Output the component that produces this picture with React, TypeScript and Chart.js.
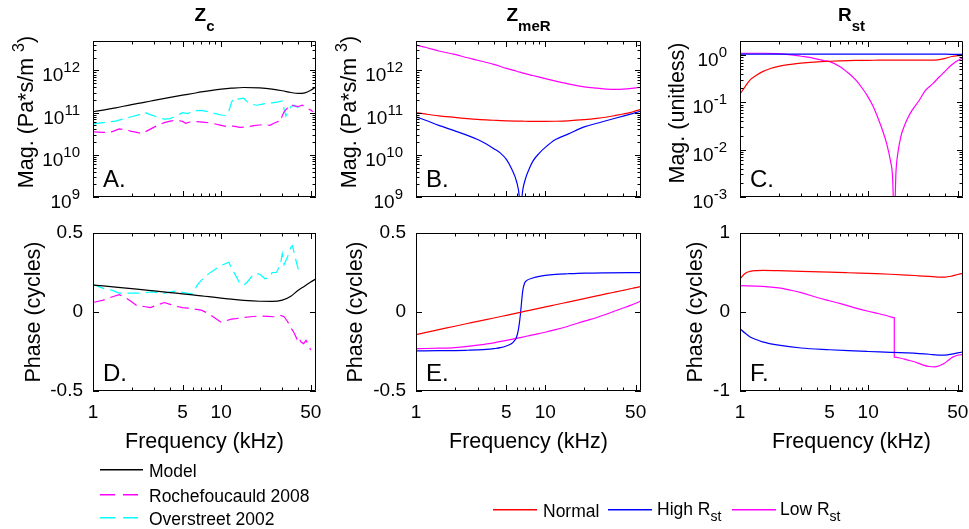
import React, { useEffect, useRef } from "react";
import { Chart, registerables } from "chart.js";

Chart.register(...registerables);

const FONT = '"Liberation Sans", Arial, Helvetica, sans-serif';

// ---------- axes ----------
const F_MIN = 1;
const F_MAX = 55;
const X_TICKS = [1, 5, 10, 50];
const X_MINOR = [2, 3, 4, 6, 7, 8, 9, 20, 30, 40];

// ---------- common frequency grid (kHz) ----------
const MODEL_F = [1, 1.2, 1.5, 2, 2.5, 3, 4, 5, 6, 7, 8, 10, 12, 15, 20, 25, 30, 35, 40, 45, 50, 55];

// ---------- Panel A: Zc magnitude ----------
const zcModelMag = [1.05e11, 1.15e11, 1.3e11, 1.55e11, 1.75e11, 1.95e11, 2.3e11, 2.6e11, 2.85e11, 3.1e11, 3.3e11, 3.6e11, 3.8e11, 3.95e11, 3.85e11, 3.6e11, 3.3e11, 3.0e11, 2.85e11, 2.95e11, 3.4e11, 4.1e11];
const rocheMagF = [1, 1.2, 1.4, 1.6, 1.8, 2, 2.2, 2.4, 2.6, 2.9, 3.2, 3.6, 4, 4.5, 5, 5.3, 5.7, 6.5, 7.5, 8.5, 10, 11, 12.5, 14, 16, 18, 20, 22, 24, 26, 28, 29, 30, 31, 33, 35, 37, 40, 43, 46, 50, 52];
const rocheMag = [3.5e10, 3.4e10, 3.5e10, 4.1e10, 3.9e10, 3.6e10, 3.4e10, 3.2e10, 3.6e10, 4.3e10, 5.0e10, 5.8e10, 6.3e10, 6.6e10, 6.2e10, 5.6e10, 6.0e10, 6.1e10, 5.9e10, 5.6e10, 5.0e10, 4.7e10, 4.8e10, 4.5e10, 4.6e10, 4.9e10, 5.1e10, 5.2e10, 5.0e10, 5.7e10, 6.2e10, 6.0e10, 8.5e10, 1.05e11, 1.3e11, 1.55e11, 1.45e11, 1.4e11, 1.5e11, 1.3e11, 1.15e11, 1.05e11];
const overMagF = [1, 1.2, 1.5, 1.75, 2, 2.3, 2.5, 2.8, 3.2, 3.6, 4, 4.5, 5, 5.5, 6, 7, 8, 9, 10, 11, 11.5, 12, 12.5, 13.5, 15, 16, 17, 19, 21, 23, 25, 28, 30, 31, 32, 33, 35, 37, 40];
const overMag = [5.4e10, 5.8e10, 6.3e10, 7.2e10, 8.0e10, 9.0e10, 1.03e11, 9.0e10, 7.8e10, 7.0e10, 7.2e10, 8.5e10, 1.0e11, 9.5e10, 1.1e11, 1.13e11, 1.05e11, 9.5e10, 8.8e10, 8.5e10, 1.1e11, 1.7e11, 2.2e11, 2.1e11, 2.2e11, 1.8e11, 1.6e11, 1.5e11, 1.6e11, 1.7e11, 1.7e11, 1.8e11, 1.9e11, 1.2e11, 8.3e10, 1.0e11, 1.4e11, 1.5e11, 1.3e11];

// ---------- Panel D: Zc phase (cycles) ----------
const zcModelPhase = [0.17, 0.165, 0.158, 0.148, 0.14, 0.134, 0.123, 0.115, 0.108, 0.102, 0.097, 0.088, 0.081, 0.074, 0.068, 0.067, 0.075, 0.1, 0.138, 0.165, 0.19, 0.21];
const rochePhaseF = [1, 1.2, 1.4, 1.6, 1.8, 2, 2.2, 2.5, 2.8, 3.2, 3.6, 4, 4.5, 5, 5.5, 6, 7, 8, 9, 10, 11, 12, 13, 15, 17, 20, 23, 26, 29, 31, 33, 35, 37, 38, 39, 40, 42, 44, 46, 48, 50];
const rochePhase = [0.06, 0.075, 0.095, 0.11, 0.09, 0.065, 0.04, 0.035, 0.028, 0.045, 0.06, 0.048, 0.035, 0.028, 0.025, 0.02, 0.012, -0.01, -0.04, -0.065, -0.055, -0.045, -0.042, -0.035, -0.03, -0.025, -0.028, -0.03, -0.022, -0.03, -0.06, -0.1, -0.13, -0.15, -0.17, -0.155, -0.19, -0.2, -0.18, -0.21, -0.24];
const overPhaseF = [1, 1.2, 1.4, 1.6, 2, 2.3, 2.9, 3.5, 4.4, 5.4, 6, 6.5, 7, 8, 9, 10, 11.5, 12, 13, 14, 15, 16, 18, 20, 22, 24, 25, 27, 29, 30, 31, 33, 35, 36, 38, 40];
const overPhase = [0.175, 0.15, 0.138, 0.12, 0.12, 0.12, 0.127, 0.117, 0.132, 0.12, 0.115, 0.17, 0.2, 0.243, 0.27, 0.295, 0.315, 0.28, 0.23, 0.18, 0.17, 0.19, 0.243, 0.24, 0.21, 0.22, 0.25, 0.25, 0.3, 0.37, 0.3, 0.35, 0.41, 0.42, 0.34, 0.27];

// ---------- Panel B: ZmeR magnitude ----------
const normalZmeMag = [1.0e11, 9.2e10, 8.4e10, 7.7e10, 7.2e10, 6.9e10, 6.6e10, 6.4e10, 6.3e10, 6.25e10, 6.2e10, 6.2e10, 6.25e10, 6.4e10, 6.8e10, 7.3e10, 7.9e10, 8.6e10, 9.3e10, 1.0e11, 1.1e11, 1.2e11];
const lowRstZmeMag = [4.0e12, 3.5e12, 2.9e12, 2.4e12, 2.0e12, 1.75e12, 1.4e12, 1.12e12, 9.6e11, 8.4e11, 7.6e11, 6.4e11, 5.6e11, 4.8e11, 4.1e11, 3.8e11, 3.6e11, 3.55e11, 3.6e11, 3.7e11, 3.85e11, 4.0e11];
const highRstZmeF = [1, 1.2, 1.5, 2, 2.5, 3, 3.5, 4, 4.5, 5, 5.5, 6, 6.3, 6.45, 6.6, 7, 7.5, 8, 9, 10, 12, 15, 20, 25, 30, 40, 50, 55];
const highRstZmeMag = [8e10, 6.5e10, 5.0e10, 3.7e10, 2.9e10, 2.3e10, 1.8e10, 1.4e10, 1.1e10, 7.8e9, 4.6e9, 2.3e9, 1.0e9, 3e8, 1.0e9, 2.6e9, 4.6e9, 7.0e9, 1.1e10, 1.5e10, 2.3e10, 3.1e10, 4.6e10, 5.6e10, 6.5e10, 8.3e10, 1.0e11, 1.1e11];

// ---------- Panel E: ZmeR phase ----------
const normalZmePhase = [-0.143, -0.129, -0.112, -0.09, -0.073, -0.059, -0.038, -0.021, -0.007, 0.005, 0.015, 0.032, 0.046, 0.063, 0.085, 0.102, 0.116, 0.127, 0.137, 0.146, 0.154, 0.162];
const lowRstZmePhase = [-0.232, -0.231, -0.229, -0.225, -0.218, -0.21, -0.195, -0.18, -0.167, -0.155, -0.145, -0.128, -0.112, -0.09, -0.058, -0.035, -0.013, 0.008, 0.025, 0.04, 0.055, 0.07];
const highRstZmePhaseF = [1, 1.5, 2, 2.5, 3, 3.5, 4, 4.5, 5, 5.5, 5.8, 6, 6.2, 6.35, 6.45, 6.55, 6.7, 6.9, 7.2, 8, 9, 10, 12, 15, 20, 30, 55];
const highRstZmePhase = [-0.246, -0.245, -0.244, -0.242, -0.24, -0.237, -0.232, -0.226, -0.215, -0.2, -0.18, -0.158, -0.11, -0.05, 0, 0.06, 0.137, 0.18, 0.2, 0.215, 0.226, 0.232, 0.238, 0.242, 0.246, 0.248, 0.249];

// ---------- Panel C: Rst magnitude ----------
const normalRstMagF = [1, 1.1, 1.2, 1.35, 1.5, 1.75, 2, 2.5, 3, 4, 5, 6, 7, 8, 10, 12, 15, 20, 25, 30, 35, 40, 45, 50, 55];
const normalRstMag = [0.15, 0.22, 0.3, 0.38, 0.45, 0.53, 0.58, 0.64, 0.68, 0.72, 0.745, 0.76, 0.77, 0.775, 0.78, 0.785, 0.79, 0.79, 0.79, 0.79, 0.8, 0.86, 0.94, 0.98, 1.0];
const highRstMagF = [1, 2, 5, 10, 20, 30, 40, 50, 55];
const highRstMag = [1.06, 1.05, 1.05, 1.05, 1.05, 1.05, 1.05, 1.04, 1.04];
const lowRstMagF = [1, 1.5, 2, 2.5, 3, 3.5, 4, 4.5, 5, 6, 7, 8, 9, 10, 11, 12, 13, 14, 15, 15.5, 16, 16.5, 17, 18, 19, 20, 22, 25, 28, 32, 36, 40, 44, 48, 52, 55];
const lowRstMag = [1.1, 1.1, 1.08, 1.02, 0.95, 0.9, 0.83, 0.77, 0.73, 0.58, 0.42, 0.3, 0.2, 0.13, 0.08, 0.045, 0.025, 0.013, 0.0055, 0.0028, 0.0003, 0.0035, 0.008, 0.019, 0.03, 0.042, 0.068, 0.11, 0.18, 0.25, 0.35, 0.46, 0.6, 0.72, 0.82, 0.89];

// ---------- Panel F: Rst phase ----------
const rstPhaseF = [1, 1.1, 1.2, 1.35, 1.5, 2, 3, 5, 7, 10, 15, 20, 25, 30, 35, 40, 45, 50, 55];
const normalRstPhase = [0.42, 0.49, 0.514, 0.524, 0.527, 0.523, 0.515, 0.505, 0.497, 0.488, 0.478, 0.468, 0.458, 0.45, 0.442, 0.442, 0.455, 0.475, 0.49];
const highRstPhase = [-0.21, -0.27, -0.316, -0.352, -0.378, -0.42, -0.456, -0.478, -0.49, -0.5, -0.51, -0.518, -0.526, -0.535, -0.545, -0.545, -0.533, -0.518, -0.505];
const lowRstPhaseF = [1, 1.5, 2, 2.5, 3, 4, 5, 6, 8, 10, 12, 14, 16, 16, 18, 20, 23, 27, 30, 33, 36, 39, 42, 46, 50, 55];
const lowRstPhase = [0.333, 0.325, 0.305, 0.275, 0.245, 0.183, 0.142, 0.109, 0.05, 0.01, -0.019, -0.047, -0.072, -0.572, -0.585, -0.605, -0.63, -0.672, -0.69, -0.695, -0.68, -0.653, -0.615, -0.568, -0.548, -0.535];

// ---------- colours ----------
const RED = "#ff0000";
const BLUE = "#0000ff";
const MAGENTA = "#ff00ff";
const CYAN = "#00ffff";
const BLACK = "#000000";
const DASH = [12, 6];

// ---------- rich text ----------
type Seg = { t: string; size: number; bold?: boolean; dy?: number };
const segFont = (s: Seg) => `${s.bold ? "bold " : ""}${s.size}px ${FONT}`;
function richWidth(ctx: CanvasRenderingContext2D, segs: Seg[]) {
  let w = 0;
  for (const s of segs) {
    ctx.font = segFont(s);
    w += ctx.measureText(s.t).width;
  }
  return w;
}
function drawRich(ctx: CanvasRenderingContext2D, segs: Seg[], x: number, y: number, align: "left" | "center" | "right") {
  const w = richWidth(ctx, segs);
  let cx = align === "left" ? x : align === "center" ? x - w / 2 : x - w;
  ctx.textAlign = "left";
  ctx.textBaseline = "alphabetic";
  for (const s of segs) {
    ctx.font = segFont(s);
    ctx.fillText(s.t, cx, y + (s.dy || 0));
    cx += ctx.measureText(s.t).width;
  }
}

function logMinor(min: number, max: number) {
  const out: number[] = [];
  for (let e = Math.floor(Math.log10(min)); e <= Math.ceil(Math.log10(max)); e++) {
    for (let m = 2; m <= 9; m++) {
      const v = m * Math.pow(10, e);
      if (v > min && v < max) out.push(v);
    }
  }
  return out;
}

interface Series { f: number[]; v: number[]; color: string; dash?: number[]; smooth: boolean; }
interface Panel {
  key: string;
  box: [number, number, number, number];
  area: [number, number, number, number];
  yLog: boolean;
  yMin: number;
  yMax: number;
  yMajor: number[];
  showX: boolean;
  title?: Seg[];
  yTitle: Seg[];
  yTitleX: number;
  yTitleY: number;
  letter: string;
  series: Series[];
  legend?: "left" | "right";
}

const MAG_TITLE: Seg[] = [
  { t: "Mag. (Pa*s/m ", size: 21.5 },
  { t: "3", size: 16, dy: -9 },
  { t: ")", size: 21.5 },
];
const PHASE_TITLE: Seg[] = [{ t: "Phase (cycles)", size: 21.5 }];

const PANELS: Panel[] = [
  {
    key: "A", box: [0, 0, 325, 215], area: [93, 41, 316, 197],
    yLog: true, yMin: 1e9, yMax: 5e12, yMajor: [1e9, 1e10, 1e11, 1e12], showX: false,
    title: [{ t: "Z", size: 19, bold: true }, { t: "c", size: 15, bold: true, dy: 10 }],
    yTitle: MAG_TITLE, yTitleX: 33, yTitleY: 112, letter: "A.",
    series: [
      { f: MODEL_F, v: zcModelMag, color: BLACK, smooth: true },
      { f: rocheMagF, v: rocheMag, color: MAGENTA, dash: DASH, smooth: false },
      { f: overMagF, v: overMag, color: CYAN, dash: DASH, smooth: false },
    ],
  },
  {
    key: "B", box: [325, 0, 323, 215], area: [416, 41, 641, 197],
    yLog: true, yMin: 1e9, yMax: 5e12, yMajor: [1e9, 1e10, 1e11, 1e12], showX: false,
    title: [{ t: "Z", size: 19, bold: true }, { t: "meR", size: 15, bold: true, dy: 10 }],
    yTitle: MAG_TITLE, yTitleX: 356, yTitleY: 112, letter: "B.",
    series: [
      { f: MODEL_F, v: normalZmeMag, color: RED, smooth: true },
      { f: highRstZmeF, v: highRstZmeMag, color: BLUE, smooth: true },
      { f: MODEL_F, v: lowRstZmeMag, color: MAGENTA, smooth: true },
    ],
  },
  {
    key: "C", box: [648, 0, 321, 215], area: [740, 41, 963, 197],
    yLog: true, yMin: 1e-3, yMax: 2, yMajor: [1e-3, 1e-2, 1e-1, 1], showX: false,
    title: [{ t: "R", size: 19, bold: true }, { t: "st", size: 15, bold: true, dy: 10 }],
    yTitle: [{ t: "Mag. (unitless)", size: 21.5 }], yTitleX: 684, yTitleY: 113, letter: "C.",
    series: [
      { f: normalRstMagF, v: normalRstMag, color: RED, smooth: true },
      { f: highRstMagF, v: highRstMag, color: BLUE, smooth: true },
      { f: lowRstMagF, v: lowRstMag, color: MAGENTA, smooth: true },
    ],
  },
  {
    key: "D", box: [0, 215, 325, 314], area: [93, 233, 316, 391],
    yLog: false, yMin: -0.5, yMax: 0.5, yMajor: [-0.5, 0, 0.5], showX: true,
    yTitle: PHASE_TITLE, yTitleX: 40, yTitleY: 312, letter: "D.", legend: "left",
    series: [
      { f: MODEL_F, v: zcModelPhase, color: BLACK, smooth: true },
      { f: rochePhaseF, v: rochePhase, color: MAGENTA, dash: DASH, smooth: false },
      { f: overPhaseF, v: overPhase, color: CYAN, dash: DASH, smooth: false },
    ],
  },
  {
    key: "E", box: [325, 215, 644, 314], area: [416, 233, 641, 391],
    yLog: false, yMin: -0.5, yMax: 0.5, yMajor: [-0.5, 0, 0.5], showX: true,
    yTitle: PHASE_TITLE, yTitleX: 362, yTitleY: 312, letter: "E.", legend: "right",
    series: [
      { f: MODEL_F, v: normalZmePhase, color: RED, smooth: true },
      { f: highRstZmePhaseF, v: highRstZmePhase, color: BLUE, smooth: true },
      { f: MODEL_F, v: lowRstZmePhase, color: MAGENTA, smooth: true },
    ],
  },
  {
    key: "F", box: [648, 215, 321, 314], area: [740, 233, 963, 391],
    yLog: false, yMin: -1, yMax: 1, yMajor: [-1, 0, 1], showX: true,
    yTitle: PHASE_TITLE, yTitleX: 702, yTitleY: 312, letter: "F.",
    series: [
      { f: rstPhaseF, v: normalRstPhase, color: RED, smooth: true },
      { f: rstPhaseF, v: highRstPhase, color: BLUE, smooth: true },
      { f: lowRstPhaseF, v: lowRstPhase, color: MAGENTA, smooth: true },
    ],
  },
];

function makeDecor(p: Panel) {
  const [bx, by] = p.box;
  const yMinor = p.yLog ? logMinor(p.yMin, p.yMax) : [];
  return {
    id: "decor" + p.key,
    afterDraw(chart: any) {
      const ctx: CanvasRenderingContext2D = chart.ctx;
      const { left, top, right, bottom } = chart.chartArea;
      const xs = chart.scales.x;
      const ys = chart.scales.y;
      ctx.save();
      ctx.fillStyle = "#000";
      ctx.strokeStyle = "#000";
      ctx.lineWidth = 1;
      ctx.setLineDash([]);
      // box
      ctx.beginPath();
      ctx.rect(Math.round(left) + 0.5, Math.round(top) + 0.5, Math.round(right - left) - 1, Math.round(bottom - top) - 1);
      ctx.stroke();
      // ticks
      const xTick = (v: number, len: number) => {
        const px = Math.round(xs.getPixelForValue(v)) + 0.5;
        ctx.beginPath();
        ctx.moveTo(px, bottom); ctx.lineTo(px, bottom - len);
        ctx.moveTo(px, top); ctx.lineTo(px, top + len);
        ctx.stroke();
      };
      const yTick = (v: number, len: number) => {
        const py = Math.round(ys.getPixelForValue(v)) + 0.5;
        ctx.beginPath();
        ctx.moveTo(left, py); ctx.lineTo(left + len, py);
        ctx.moveTo(right, py); ctx.lineTo(right - len, py);
        ctx.stroke();
      };
      X_TICKS.forEach((v) => xTick(v, 6));
      X_MINOR.forEach((v) => xTick(v, 3.5));
      p.yMajor.forEach((v) => yTick(v, 6));
      yMinor.forEach((v) => yTick(v, 3.5));
      // log tick labels 10^n
      if (p.yLog) {
        p.yMajor.forEach((v) => {
          const py = ys.getPixelForValue(v);
          const e = Math.round(Math.log10(v));
          drawRich(ctx, [{ t: "10", size: 19 }, { t: String(e), size: 15, dy: -9 }], left - 13, py + 11, "right");
        });
      }
      // panel letter
      drawRich(ctx, [{ t: p.letter, size: 24 }], left + 10, bottom - 10, "left");
      // title
      if (p.title) drawRich(ctx, p.title, (left + right) / 2, 21 - by, "center");
      // y title
      ctx.save();
      ctx.translate(p.yTitleX - bx, p.yTitleY - by);
      ctx.rotate(-Math.PI / 2);
      drawRich(ctx, p.yTitle, 0, 0, "center");
      ctx.restore();
      // x title
      if (p.showX) drawRich(ctx, [{ t: "Frequency (kHz)", size: 21.5 }], (left + right) / 2, 448 - by, "center");
      // legends (sample lines drawn as filled strips)
      const legendLine = (x1: number, x2: number, y: number, color: string, dash: number[]) => {
        ctx.save();
        ctx.fillStyle = color;
        const yy = Math.round(y) - by;
        if (dash.length === 0) {
          ctx.fillRect(x1 - bx, yy, x2 - x1, 1.5);
        } else {
          let x = x1;
          let on = true;
          let k = 0;
          while (x < x2) {
            const len = Math.min(dash[k % dash.length], x2 - x);
            if (on) ctx.fillRect(x - bx, yy, len, 1.5);
            x += len;
            on = !on;
            k++;
          }
        }
        ctx.restore();
      };
      ctx.fillStyle = "#000";
      if (p.legend === "left") {
        const rows: [string, string, number[]][] = [
          ["Model", BLACK, []],
          ["Rochefoucauld 2008", MAGENTA, [15, 8]],
          ["Overstreet 2002", CYAN, [15, 8]],
        ];
        const ysL = [469, 494, 517];
        rows.forEach((r, i) => {
          legendLine(100, 143, ysL[i], r[1], r[2]);
          ctx.fillStyle = "#000";
          drawRich(ctx, [{ t: r[0], size: 17.5 }], 149 - bx, ysL[i] + 8 - by, "left");
        });
      }
      if (p.legend === "right") {
        const ly = 509;
        legendLine(493, 537, ly, RED, []);
        ctx.fillStyle = "#000";
        drawRich(ctx, [{ t: "Normal", size: 17.5 }], 543 - bx, 517 - by, "left");
        legendLine(608, 652, ly, BLUE, []);
        ctx.fillStyle = "#000";
        drawRich(ctx, [{ t: "High R", size: 17.5 }, { t: "st", size: 14, dy: 6 }], 657 - bx, 515 - by, "left");
        legendLine(732, 776, ly, MAGENTA, []);
        ctx.fillStyle = "#000";
        drawRich(ctx, [{ t: "Low R", size: 17.5 }, { t: "st", size: 14, dy: 6 }], 780 - bx, 515 - by, "left");
      }
      ctx.restore();
    },
  };
}

function buildConfig(p: Panel): any {
  const [bx, by, bw, bh] = p.box;
  const [al, at, ar, ab] = p.area;
  const L = al - bx;
  const T = at - by;
  const R = bx + bw - ar;
  const B = by + bh - ab;
  return {
    type: "line",
    data: {
      datasets: p.series.map((s) => ({
        data: s.f.map((f, i) => ({ x: f, y: s.v[i] })),
        borderColor: s.color,
        borderWidth: 1.2,
        borderDash: s.dash || [],
        pointRadius: 0,
        fill: false,
        tension: 0,
        cubicInterpolationMode: s.smooth ? "monotone" : "default",
      })),
    },
    options: {
      animation: false,
      responsive: false,
      events: [],
      layout: { padding: { left: 0, top: T, right: R, bottom: 0 } },
      plugins: { legend: { display: false }, tooltip: { enabled: false }, title: { display: false } },
      scales: {
        x: {
          type: "logarithmic",
          min: F_MIN,
          max: F_MAX,
          grid: { display: false, drawTicks: false },
          border: { display: false },
          ticks: {
            display: p.showX,
            font: { family: FONT, size: 19 },
            color: "#000",
            padding: 10,
            autoSkip: false,
            maxRotation: 0,
            minRotation: 0,
            callback: (v: any) => String(v),
          },
          afterBuildTicks: (s: any) => {
            s.ticks = X_TICKS.map((v) => ({ value: v }));
          },
          afterFit: (s: any) => {
            s.height = B;
            s.paddingLeft = 0;
            s.paddingRight = 0;
          },
        },
        y: {
          type: p.yLog ? "logarithmic" : "linear",
          min: p.yMin,
          max: p.yMax,
          grid: { display: false, drawTicks: false },
          border: { display: false },
          ticks: {
            display: !p.yLog,
            font: { family: FONT, size: 19 },
            color: "#000",
            padding: 10,
            autoSkip: false,
            callback: (v: any) => String(v),
          },
          afterBuildTicks: (s: any) => {
            s.ticks = p.yMajor.map((v) => ({ value: v }));
          },
          afterFit: (s: any) => {
            s.width = L;
            s.paddingTop = 0;
            s.paddingBottom = 0;
          },
        },
      },
    },
    plugins: [makeDecor(p)],
  };
}

function PanelChart({ p }: { p: Panel }) {
  const ref = useRef<HTMLCanvasElement>(null);
  useEffect(() => {
    const chart = new Chart(ref.current as HTMLCanvasElement, buildConfig(p));
    return () => chart.destroy();
  }, []);
  const [l, t, w, h] = p.box;
  return (
    <canvas
      ref={ref}
      width={w}
      height={h}
      style={{ position: "absolute", left: l, top: t, width: w, height: h }}
    />
  );
}

export default function App() {
  return (
    <div style={{ position: "absolute", left: 0, top: 0, width: 969, height: 529, background: "#fff", overflow: "hidden" }}>
      {PANELS.map((p) => (
        <PanelChart key={p.key} p={p} />
      ))}
    </div>
  );
}
